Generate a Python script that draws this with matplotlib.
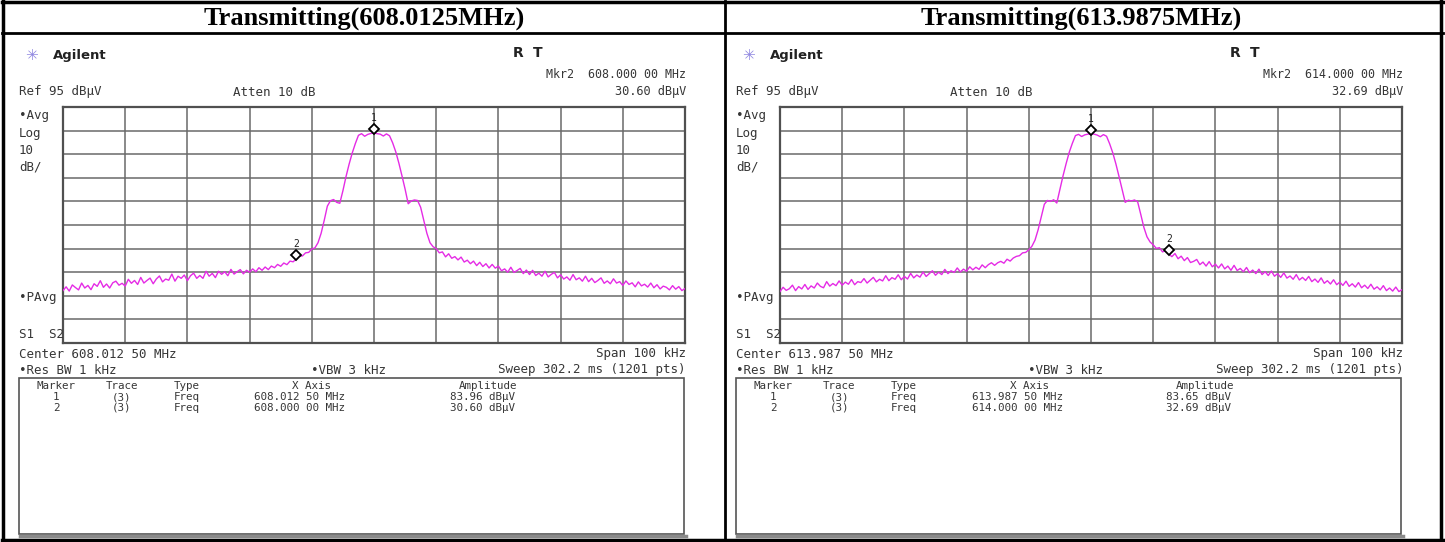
import numpy as np
import matplotlib
matplotlib.use("Agg")
import matplotlib.pyplot as plt
from matplotlib.lines import Line2D
from matplotlib.patches import Rectangle
from matplotlib.transforms import ScaledTranslation

W, H = 1445, 542

# sweep settings
titles = ["Transmitting(608.0125MHz)", "Transmitting(613.9875MHz)"]
centers_mhz = [608.0125, 613.9875]
span_khz = 100
ref_level = 95
db_per_div = 10

mkr1_freq = [608.0125, 613.9875]
mkr1_amp = [83.96, 83.65]
mkr2_freq = [608.000, 614.000]
mkr2_amp = [30.60, 32.69]

mkr2_txt = ["Mkr2  608.000 00 MHz", "Mkr2  614.000 00 MHz"]
mkr2_amp_txt = ["30.60 dBµV", "32.69 dBµV"]
center_txt = ["Center 608.012 50 MHz", "Center 613.987 50 MHz"]
xaxis_txt = [["608.012 50 MHz", "608.000 00 MHz"], ["613.987 50 MHz", "614.000 00 MHz"]]
ampl_txt = [["83.96 dBµV", "30.60 dBµV"], ["83.65 dBµV", "32.69 dBµV"]]

# trace levels (dBuV), one value per 0.5 kHz from -50 kHz to +50 kHz
trace_608 = [
    17.2, 18.8, 17.0, 19.6, 18.5, 17.5, 20.4, 18.3, 19.4, 17.6,
    20.1, 19.0, 21.4, 18.6, 20.0, 18.3, 20.5, 21.2, 19.5, 20.3,
    19.1, 22.0, 20.3, 21.5, 19.8, 22.8, 20.4, 21.5, 22.5, 20.1,
    22.1, 23.4, 20.9, 22.1, 21.6, 24.2, 21.2, 23.3, 22.4, 23.8,
    21.4, 23.5, 24.6, 22.4, 23.6, 22.4, 25.4, 23.3, 24.5, 22.7,
    25.4, 24.1, 25.2, 23.5, 26.2, 24.2, 25.2, 26.1, 24.3, 25.8,
    25.0, 26.4, 25.2, 26.9, 25.8, 27.2, 26.1, 27.6, 26.9, 28.3,
    27.5, 28.9, 28.2, 29.7, 29.4, 30.6, 31.8, 31.9, 33.2, 33.4,
    34.8, 35.3, 37.5, 41.5, 47.0, 53.0, 55.3, 55.8, 54.6, 54.2,
    59.5, 65.5, 70.8, 75.5, 79.5, 83.0, 83.7, 82.6, 83.4, 83.8,
    83.96, 83.7, 83.5, 82.7, 83.6, 82.8, 79.8, 76.0, 71.2, 65.8,
    60.2, 54.0, 55.2, 55.6, 55.4, 52.5, 47.0, 41.5, 37.5, 35.8,
    35.0, 33.2, 33.6, 31.5, 32.8, 30.9, 31.6, 30.2, 31.4, 29.3,
    30.1, 28.6, 29.7, 27.8, 29.2, 27.4, 28.6, 26.8, 28.3, 26.7,
    27.6, 25.6, 26.4, 25.0, 27.1, 24.9, 25.7, 26.6, 24.4, 25.9,
    24.0, 25.8, 23.6, 24.6, 23.3, 25.4, 23.0, 24.1, 24.9, 22.6,
    23.9, 22.1, 23.0, 21.6, 24.0, 21.8, 22.6, 21.2, 23.3, 21.0,
    22.4, 20.6, 21.5, 22.6, 20.3, 21.3, 20.1, 22.2, 20.4, 21.0,
    19.4, 21.3, 19.8, 20.5, 18.8, 20.9, 19.2, 19.9, 18.7, 20.4,
    18.4, 19.7, 17.9, 19.1, 18.6, 17.5, 19.3, 17.8, 18.9, 17.2,
    18.1,
]
trace_614 = [
    16.8, 18.6, 17.3, 18.0, 19.5, 17.2, 18.9, 17.9, 19.8, 17.7,
    19.2, 18.3, 20.4, 19.0, 18.4, 21.0, 19.1, 20.2, 19.3, 21.3,
    19.5, 20.8, 19.9, 21.9, 19.7, 21.0, 20.6, 22.3, 20.4, 21.6,
    22.8, 20.9, 22.0, 21.3, 23.5, 21.4, 22.7, 22.0, 23.9, 21.8,
    23.2, 22.1, 24.5, 22.6, 23.8, 22.9, 25.1, 23.2, 24.4, 25.6,
    23.7, 25.0, 24.0, 26.2, 24.4, 25.6, 24.9, 26.8, 25.1, 26.3,
    25.4, 27.3, 26.0, 27.1, 26.2, 28.1, 26.9, 28.2, 29.0, 27.9,
    29.0, 29.6, 28.8, 30.5, 29.7, 31.0, 31.7, 32.0, 33.2, 33.4,
    34.5, 36.0, 38.6, 43.0, 48.5, 53.8, 55.4, 55.0, 55.7, 54.3,
    60.0, 65.8, 71.0, 75.8, 79.6, 82.9, 83.4, 82.5, 83.2, 83.5,
    83.65, 83.5, 83.1, 82.4, 83.3, 82.6, 79.4, 75.6, 70.9, 65.6,
    60.0, 54.6, 55.5, 55.2, 55.6, 54.8, 49.5, 44.0, 40.0, 37.8,
    36.6, 35.1, 35.4, 33.6, 34.2, 32.69, 31.6, 32.9, 30.7, 31.8,
    29.9, 31.2, 29.1, 29.6, 30.4, 28.2, 29.3, 27.6, 29.5, 27.3,
    28.4, 26.8, 28.5, 26.4, 27.6, 25.8, 27.9, 25.7, 26.6, 25.2,
    27.0, 24.8, 25.9, 24.4, 26.3, 24.0, 25.2, 23.6, 25.5, 23.3,
    24.4, 22.8, 24.7, 22.5, 23.4, 22.0, 24.0, 21.7, 22.8, 21.5,
    23.2, 21.0, 22.1, 20.7, 22.6, 20.3, 21.4, 20.0, 21.8, 19.7,
    20.8, 19.4, 21.2, 19.0, 20.1, 18.7, 20.6, 18.4, 19.5, 18.1,
    19.9, 17.8, 18.8, 17.5, 19.3, 17.2, 18.3, 17.0, 18.7, 16.8,
    17.6,
]
traces = [trace_608, trace_614]

MONO = "DejaVu Sans Mono"
FG = "#363636"
TRACE = "#e52be5"

fig = plt.figure(figsize=(W / 100, H / 100), dpi=100)


def P(x, y):
    # pixel position (from top-left) -> figure fraction
    return x / W, 1 - y / H


def txt(x, y, s, **kw):
    kw.setdefault("family", MONO)
    kw.setdefault("fontsize", 9)
    kw.setdefault("color", FG)
    kw.setdefault("va", "center")
    fig.text(*P(x, y), s, **kw)


def hline(x0, x1, y, **kw):
    fig.add_artist(Line2D([x0 / W, x1 / W], [1 - y / H] * 2, **kw))


def vline(x, y0, y1, **kw):
    fig.add_artist(Line2D([x / W] * 2, [1 - y0 / H, 1 - y1 / H], **kw))


def panel(i, dx):
    # header text + instrument annotations
    txt(364 + dx, 18, titles[i], family="Liberation Serif", weight="bold",
        fontsize=19, color="black", ha="center")
    txt(32 + dx, 55, "\u2733", family="DejaVu Sans", fontsize=11, color="#8f86e0", ha="center")
    txt(53 + dx, 55, "Agilent", family="DejaVu Sans", weight="bold", fontsize=9.5, color="#222")
    txt(513 + dx, 53, "R", family="DejaVu Sans", weight="bold", fontsize=10, color="#222")
    txt(533 + dx, 53, "T", family="DejaVu Sans", weight="bold", fontsize=10, color="#222")
    txt(686 + dx, 74, mkr2_txt[i], ha="right", fontsize=8.4)
    txt(19 + dx, 92, "Ref 95 dBµV")
    txt(233 + dx, 92, "Atten 10 dB")
    txt(686 + dx, 92, mkr2_amp_txt[i], ha="right", fontsize=8.6)
    for y, s in zip([116, 133, 150, 167], ["\u2022Avg", "Log", "10", "dB/"]):
        txt(19 + dx, y, s)
    txt(19 + dx, 297, "\u2022PAvg")
    txt(19 + dx, 335, "S1  S2")
    txt(19 + dx, 354, center_txt[i])
    txt(686 + dx, 354, "Span 100 kHz", ha="right")
    txt(19 + dx, 370, "\u2022Res BW 1 kHz")
    txt(311 + dx, 370, "\u2022VBW 3 kHz")
    txt(686 + dx, 370, "Sweep 302.2 ms (1201 pts)", ha="right")

    # marker table box
    x0, y0, x1, y1 = 19 + dx, 378, 684 + dx, 534
    fig.add_artist(Rectangle(P(x0, y1), (x1 - x0) / W, (y1 - y0) / H,
                             transform=fig.transFigure, fill=False, ec="#555", lw=1.2))
    hline(x0 + 1, x1 + 2, y1 + 2, color="#8a8a8a", lw=2.5)
    cols = [56, 122, 187, 312, 488]
    heads = ["Marker", "Trace", "Type", "X Axis", "Amplitude"]
    for c, s in zip(cols, heads):
        txt(c + dx, 386, s, ha="center", fontsize=7.8)
    for r, y in enumerate([397, 408]):
        row = [str(r + 1), "(3)", "Freq", xaxis_txt[i][r], ampl_txt[i][r]]
        for c, s in zip(cols, row):
            if c == 312:
                c = 300
            elif c == 488:
                c = 482
            txt(c + dx, y, s, ha="center", fontsize=7.8)

    # graticule
    ax = fig.add_axes([(63 + dx) / W, 1 - 343 / H, 622 / W, 236 / H])
    off = np.linspace(-span_khz / 2, span_khz / 2, len(traces[i]))
    ax.plot(off, traces[i], color=TRACE, lw=1.0, zorder=3)
    ax.set_xlim(-span_khz / 2, span_khz / 2)
    ax.set_ylim(ref_level - 10 * db_per_div, ref_level)
    ax.set_xticks(np.arange(-span_khz / 2, span_khz / 2 + 1, span_khz / 10))
    ax.set_yticks(np.arange(ref_level - 10 * db_per_div, ref_level + 1, db_per_div))
    ax.grid(True, color="#6a6a6a", lw=1.1)
    ax.tick_params(length=0, labelbottom=False, labelleft=False)
    for sp in ax.spines.values():
        sp.set_color("#505050")
        sp.set_linewidth(1.6)

    lift = ax.transData + ScaledTranslation(0, 3 / 72, fig.dpi_scale_trans)
    for n, (f, a) in enumerate([(mkr1_freq[i], mkr1_amp[i]), (mkr2_freq[i], mkr2_amp[i])]):
        k = (f - centers_mhz[i]) * 1000
        ax.plot(k, a, marker="D", ms=5.5, mfc="white", mec="black", mew=1.3,
                transform=lift, zorder=5, clip_on=False)
        ax.annotate(str(n + 1), (k, a), xytext=(0, 11), textcoords="offset points",
                    ha="center", va="center", fontsize=7, family=MONO, color="#222")


panel(0, 0)
panel(1, 717)

# table borders
hline(2, 1443, 2, color="black", lw=2.5)
hline(2, 1443, 33, color="black", lw=2)
hline(2, 1443, 540, color="black", lw=2.5)
vline(3, 1, 541, color="black", lw=2.5)
vline(725, 1, 541, color="black", lw=2)
vline(1441, 1, 541, color="black", lw=2.5)

fig.savefig("out.png", dpi=100)
